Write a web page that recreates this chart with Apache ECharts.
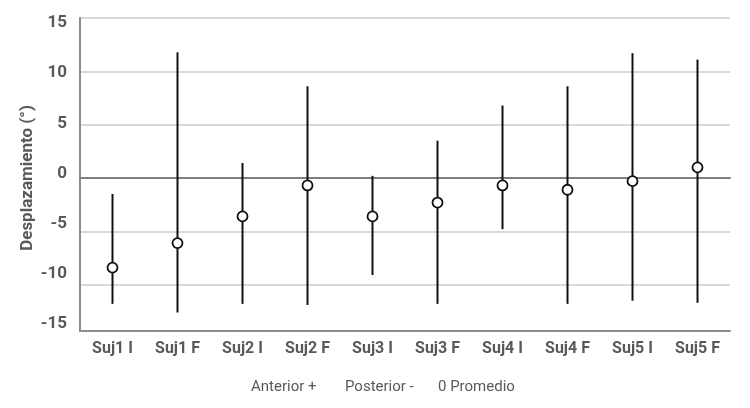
<!DOCTYPE html>
<html>
<head>
<meta charset="utf-8">
<script src="https://cdn.jsdelivr.net/npm/echarts@6/dist/echarts.min.js"></script>
<style>
html,body{margin:0;padding:0;background:#fff;}
#chart{width:750px;height:408px;}
</style>
</head>
<body>
<div id="chart"></div>
<script>
const categories = ['Suj1 I','Suj1 F','Suj2 I','Suj2 F','Suj3 I','Suj3 F','Suj4 I','Suj4 F','Suj5 I','Suj5 F'];
const means = [-8.4, -6.1, -3.6, -0.7, -3.6, -2.3, -0.7, -1.1, -0.3, 1.0];
const highs = [-1.5, 11.8, 1.4, 8.6, 0.2, 3.5, 6.8, 8.6, 11.7, 11.1];
const lows  = [-11.8, -12.6, -11.8, -11.9, -9.1, -11.8, -4.8, -11.8, -11.5, -11.7];
const yMin = -15, yMax = 15, yStep = 5;
const yAxisName = 'Desplazamiento (°)';
const legendTexts = ['Anterior +', 'Posterior -', '0 Promedio'];

const FONT = 'Roboto, "Noto Sans", sans-serif';
const TXT = '#595959';

const chart = echarts.init(document.getElementById('chart'), null, {renderer: 'canvas'});

const legendX = [251, 345, 438];

chart.setOption({
  animation: false,
  backgroundColor: '#fff',
  grid: [
    {left: 80, right: 20, top: 18, height: 320},
    {left: 80, right: 20, top: 18, height: 313},
    {left: 80, right: 20, top: 23, height: 301}
  ],
  xAxis: [
    {gridIndex: 0, type: 'category', data: categories,
     axisLine: {show: true, onZero: true, lineStyle: {color: '#7f7f7f', width: 2}},
     axisTick: {show: false}, axisLabel: {show: false}, splitLine: {show: false}},
    {gridIndex: 1, type: 'category', data: categories,
     axisLine: {show: true, onZero: false, lineStyle: {color: '#8c8c8c', width: 2}},
     axisTick: {show: false},
     axisLabel: {show: true, fontFamily: FONT, fontWeight: 'bold', fontSize: 16, color: TXT, margin: 10},
     splitLine: {show: false}},
    {gridIndex: 2, type: 'category', data: categories, show: false}
  ],
  yAxis: [
    {gridIndex: 0, type: 'value', min: yMin, max: yMax, interval: yStep,
     axisLine: {show: false}, axisTick: {show: false}, axisLabel: {show: false},
     splitLine: {show: true, showMinLine: false, lineStyle: {color: '#d9d9d9', width: 2}},
     name: yAxisName, nameLocation: 'middle', nameGap: 44,
     nameTextStyle: {fontFamily: FONT, fontWeight: 'bold', fontSize: 17, color: TXT}},
    {gridIndex: 1, type: 'value', min: yMin, max: yMax, interval: yStep,
     axisLine: {show: true, lineStyle: {color: '#8c8c8c', width: 2}},
     axisTick: {show: false}, axisLabel: {show: false}, splitLine: {show: false}},
    {gridIndex: 2, type: 'value', min: yMin, max: yMax, interval: yStep,
     axisLine: {show: false}, axisTick: {show: false}, splitLine: {show: false},
     axisLabel: {show: true, fontFamily: FONT, fontWeight: 'bold', fontSize: 17, color: TXT, margin: 13}}
  ],
  graphic: legendTexts.map((t, i) => ({
    type: 'text', left: legendX[i], top: 380,
    style: {text: t, fontFamily: FONT, fontSize: 15, fill: TXT}
  })),
  series: [
    {
      type: 'custom', xAxisIndex: 0, yAxisIndex: 0,
      data: categories.map((c, i) => [i, lows[i], highs[i]]),
      encode: {x: 0, y: [1, 2]},
      renderItem: function (params, api) {
        const p1 = api.coord([api.value(0), api.value(1)]);
        const p2 = api.coord([api.value(0), api.value(2)]);
        return {type: 'line', shape: {x1: p1[0], y1: p1[1], x2: p2[0], y2: p2[1]},
                style: {stroke: '#111', lineWidth: 2}};
      },
      z: 3
    },
    {
      type: 'scatter', xAxisIndex: 0, yAxisIndex: 0,
      data: means, symbol: 'circle', symbolSize: 10,
      itemStyle: {color: '#fff', borderColor: '#111', borderWidth: 1.8, opacity: 1},
      z: 4
    }
  ]
});
</script>
</body>
</html>
